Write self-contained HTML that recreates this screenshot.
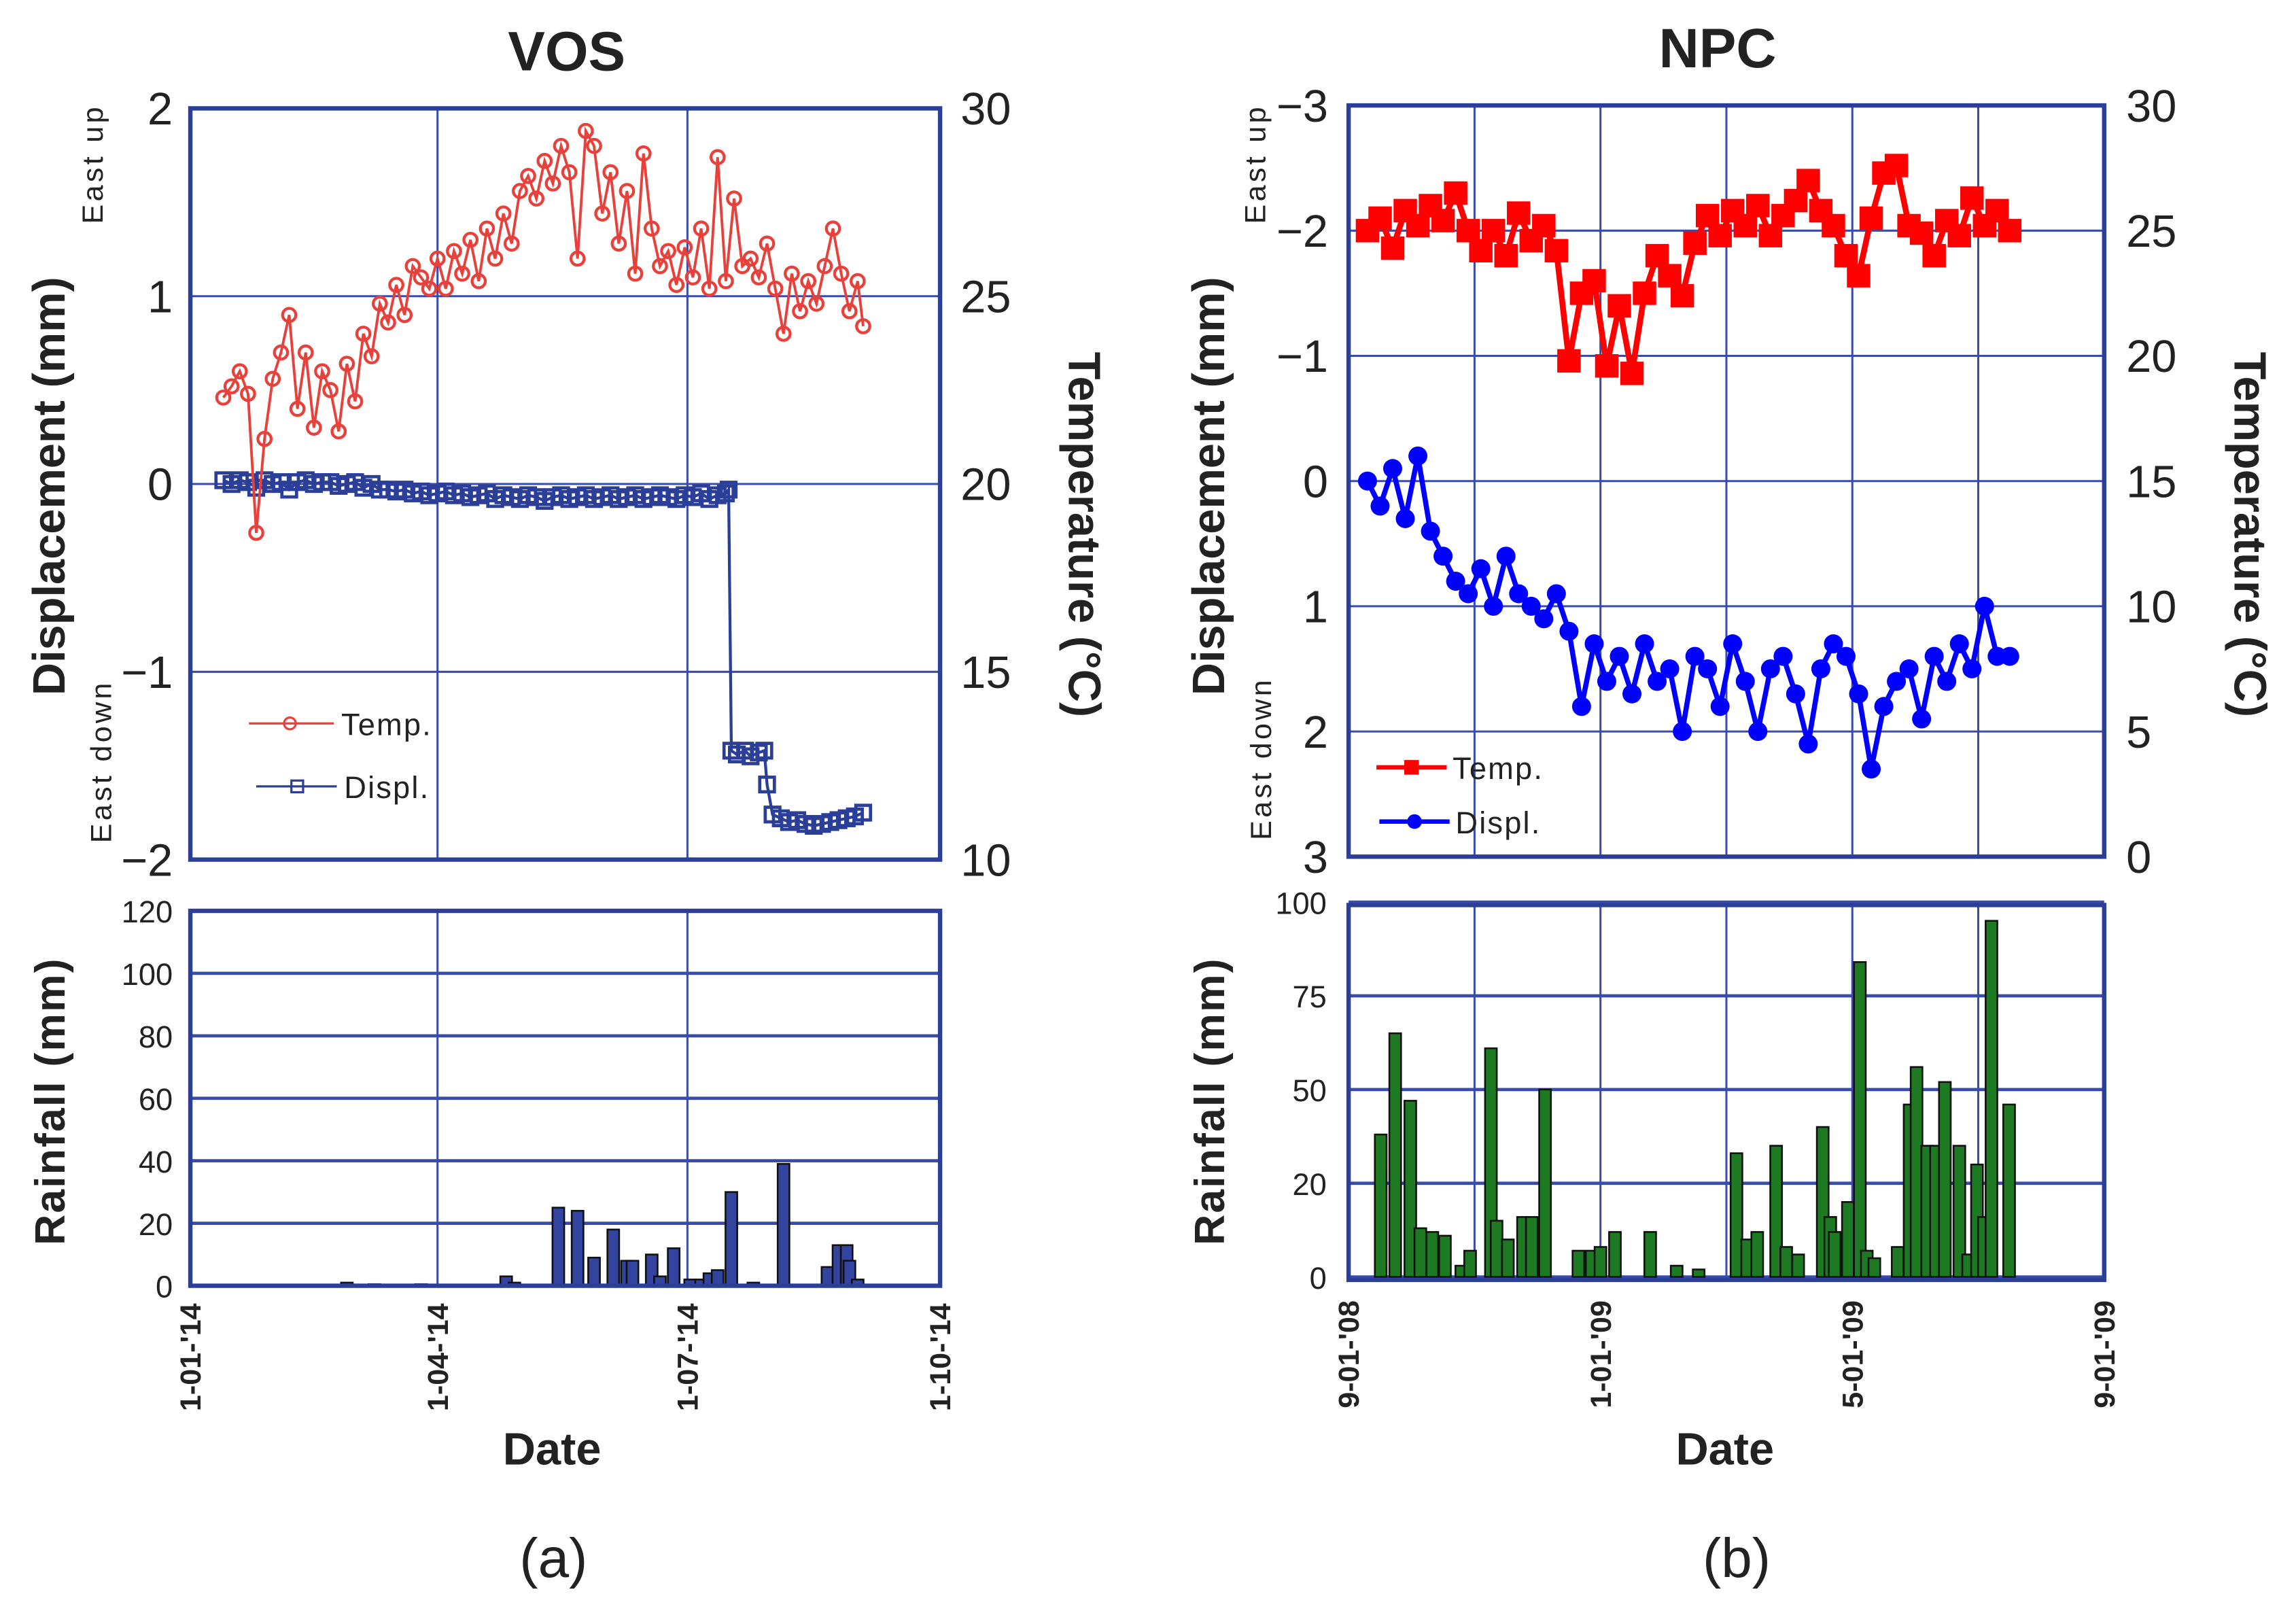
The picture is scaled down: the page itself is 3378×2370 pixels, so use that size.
<!DOCTYPE html>
<html><head><meta charset="utf-8"><style>
html,body{margin:0;padding:0;background:#fff;}
svg{display:block;font-family:"Liberation Sans",sans-serif;}
</style></head><body>
<svg id="fig" width="3378" height="2370" viewBox="0 0 1568 1100.1" preserveAspectRatio="none" xmlns="http://www.w3.org/2000/svg">
<rect width="1568" height="1100.1" fill="#fff"/>
</svg>
<script>
// ---------- VOS data (day of year 2014) ----------
const vosTempDays=[12,15,18,21,24,27,30,33,36,39,42,45,48,51,54,57,60,63,66,69,72,75,78,81,84,87,90,93,96,99,102,105,108,111,114,117,120,123,126,129,132,135,138,141,144,147,150,153,156,159,162,165,168,171,174,177,180,183,186,189,192,195,198,201,204,207,210,213,216,219,222,225,228,231,234,237,240,243,245];
const vosTempVals=[22.3,22.6,23.0,22.4,18.7,21.2,22.8,23.5,24.5,22.0,23.5,21.5,23.0,22.5,21.4,23.2,22.2,24.0,23.4,24.8,24.3,25.3,24.5,25.8,25.5,25.2,26.0,25.2,26.2,25.6,26.5,25.4,26.8,26.0,27.2,26.4,27.8,28.2,27.6,28.6,28.0,29.0,28.3,26.0,29.4,29.0,27.2,28.3,26.4,27.8,25.6,28.8,26.8,25.8,26.2,25.3,26.3,25.5,26.8,25.2,28.7,25.4,27.6,25.8,26.0,25.5,26.4,25.2,24.0,25.6,24.6,25.4,24.8,25.8,26.8,25.6,24.6,25.4,24.2];
const vosDispDays=[12,15,18,21,24,27,30,33,36,39,42,45,48,51,54,57,60,63,66,69,72,75,78,81,84,87,90,93,96,99,102,105,108,111,114,117,120,123,126,129,132,135,138,141,144,147,150,153,156,159,162,165,168,171,174,177,180,183,186,189,192,195,196,197,199,202,204,207,209,210,212,215,218,221,224,227,230,233,236,239,242,245];
const vosDispVals=[0.02,0.0,0.02,0.01,-0.02,0.02,0.0,0.01,-0.03,0.01,0.02,0.0,0.01,0.01,-0.01,0.0,0.01,-0.02,0.0,-0.03,-0.03,-0.04,-0.03,-0.05,-0.04,-0.06,-0.05,-0.04,-0.06,-0.05,-0.07,-0.06,-0.05,-0.08,-0.06,-0.07,-0.08,-0.06,-0.07,-0.09,-0.07,-0.06,-0.08,-0.07,-0.06,-0.08,-0.07,-0.06,-0.08,-0.07,-0.06,-0.08,-0.07,-0.06,-0.07,-0.08,-0.06,-0.07,-0.05,-0.08,-0.06,-0.05,-0.03,-1.42,-1.44,-1.42,-1.45,-1.43,-1.42,-1.6,-1.76,-1.78,-1.80,-1.79,-1.81,-1.82,-1.81,-1.80,-1.79,-1.78,-1.77,-1.75];
const vosRainDays=[57,67,84,115,118,134,141,147,154,159,161,168,171,176,182,186,189,192,197,205,216,232,236,239,240,243];
const vosRainVals=[1,0.5,0.5,3,1,25,24,9,18,8,8,10,3,12,2,2,4,5,30,1,39,6,13,13,8,2];
const vosDispTicks=[2,1,0,-1,-2];
const vosDispTickLabels=["2","1","0","\u22121","\u22122"];
const vosTempTicks=[30,25,20,15,10];
const vosRainTicks=[0,20,40,60,80,100,120];
const vosDateTicks=[0,90,181,273];
const vosDateLabels=["1-01-'14","1-04-'14","1-07-'14","1-10-'14"];
// ---------- NPC data (months since 1 Sep 2008) ----------
const npcTempMonths=[0.3,0.5,0.7,0.9,1.1,1.3,1.5,1.7,1.9,2.1,2.3,2.5,2.7,2.9,3.1,3.3,3.5,3.7,3.9,4.1,4.3,4.5,4.7,4.9,5.1,5.3,5.5,5.7,5.9,6.1,6.3,6.5,6.7,6.9,7.1,7.3,7.5,7.7,7.9,8.1,8.3,8.5,8.7,8.9,9.1,9.3,9.5,9.7,9.9,10.1,10.3,10.5];
const npcTempVals=[25,25.5,24.3,25.8,25.2,26.0,25.4,26.5,25.0,24.2,25.0,24.0,25.7,24.6,25.2,24.2,19.8,22.5,23.0,19.6,22.0,19.3,22.5,24.0,23.2,22.4,24.5,25.6,24.8,25.8,25.2,26.0,24.8,25.6,26.2,27.0,25.8,25.2,24.0,23.2,25.5,27.3,27.6,25.2,24.9,24.0,25.4,24.8,26.3,25.2,25.8,25.0];
const npcDispMonths=npcTempMonths;
const npcDispVals=[0,0.2,-0.1,0.3,-0.2,0.4,0.6,0.8,0.9,0.7,1.0,0.6,0.9,1.0,1.1,0.9,1.2,1.8,1.3,1.6,1.4,1.7,1.3,1.6,1.5,2.0,1.4,1.5,1.8,1.3,1.6,2.0,1.5,1.4,1.7,2.1,1.5,1.3,1.4,1.7,2.3,1.8,1.6,1.5,1.9,1.4,1.6,1.3,1.5,1.0,1.4,1.4];
const npcRainMonths=[0.51,0.74,0.98,1.14,1.33,1.53,1.79,1.93,2.26,2.35,2.53,2.77,2.91,3.12,3.65,3.86,4.0,4.23,4.79,5.21,5.56,6.16,6.33,6.49,6.79,6.95,7.14,7.53,7.65,7.72,7.93,8.12,8.23,8.35,8.72,8.91,9.02,9.19,9.33,9.47,9.70,9.84,9.98,10.09,10.21,10.49];
const npcRainVals=[38,65,47,13,12,11,3,7,61,15,10,16,16,50,7,7,8,12,12,3,2,33,10,12,35,8,6,40,16,12,20,84,7,5,8,46,56,35,35,52,35,6,30,16,95,46];
const npcDispTicks=[-3,-2,-1,0,1,2,3];
const npcDispTickLabels=["\u22123","\u22122","\u22121","0","1","2","3"];
const npcTempTicks=[30,25,20,15,10,5,0];
const npcRainTicks=[0,25,50,75,100];
const npcRainTickLabels=["0","20","50","75","100"];
const npcDateTicks=[0,4,8,12];
const npcDateLabels=["9-01-'08","1-01-'09","5-01-'09","9-01-'09"];
const npcGridMonths=[2,4,6,8,10];

const svg=document.getElementById('fig');
const NS='http://www.w3.org/2000/svg';
function mk(tag,attrs,parent){const e=document.createElementNS(NS,tag);for(const k in attrs)e.setAttribute(k,attrs[k]);(parent||svg).appendChild(e);return e;}
function lin(d0,d1,r0,r1){return v=>r0+(v-d0)/(d1-d0)*(r1-r0);}
function txt(s,x,y,size,opt,parent){const t=mk('text',Object.assign({x:x,y:y,'font-size':size,fill:'#222'},opt||{}),parent);t.textContent=s;return t;}

// ====== VOS ======
const vx=lin(0,273,130,642), vyD=lin(-2,2,587,74), vyT=lin(10,30,587,74), vyR=lin(0,120,878,622);
const vosBlue='#2b3f99', vosRed='#e8403a';
let g=mk('g',{});

txt('VOS',387,48,38,{'font-weight':'bold','text-anchor':'middle'},g);
[1,0,-1].forEach(v=>{const l=mk('line',{x1:130,x2:642,y1:vyD(v),y2:vyD(v),stroke:'#3a4caa','stroke-width':1.4},g);});
[90,181].forEach(v=>{const l=mk('line',{x1:vx(v),x2:vx(v),y1:74,y2:587,stroke:'#3a4caa','stroke-width':1.4},g);});
vosDispTicks.forEach((v,i)=>{const t=txt(vosDispTickLabels[i],118,vyD(v)+11,31,{'text-anchor':'end'},g);});
vosTempTicks.forEach(v=>{const t=txt(String(v),656,vyT(v)+11,31,{},g);});
let pts=vosDispDays.map((d,i)=>vx(d)+','+vyD(vosDispVals[i])).join(' ');
let pl=mk('polyline',{points:pts,fill:'none',stroke:vosBlue,'stroke-width':2},g);

vosDispDays.forEach((d,i)=>{const r=mk('rect',{x:vx(d)-5,y:vyD(vosDispVals[i])-5,width:10,height:10,fill:'none',stroke:vosBlue,'stroke-width':2.2},g);});
pts=vosTempDays.map((d,i)=>vx(d)+','+vyT(vosTempVals[i])).join(' ');
pl=mk('polyline',{points:pts,fill:'none',stroke:vosRed,'stroke-width':1.8},g);

vosTempDays.forEach((d,i)=>{const c=mk('circle',{cx:vx(d),cy:vyT(vosTempVals[i]),r:4.5,fill:'none',stroke:vosRed,'stroke-width':2},g);});
let fr=mk('rect',{x:130,y:74,width:512,height:513,fill:'none',stroke:vosBlue,'stroke-width':3},g);

let lg=mk('g',{},g);
mk('line',{x1:170,x2:228,y1:494,y2:494,stroke:vosRed,'stroke-width':1.5},lg);
mk('circle',{cx:198,cy:494,r:4,fill:'none',stroke:vosRed,'stroke-width':1.5},lg);
txt('Temp.',233,502,21,{'letter-spacing':'1'},lg);
mk('line',{x1:175,x2:230,y1:537,y2:537,stroke:vosBlue,'stroke-width':1.5},lg);
mk('rect',{x:199,y:533,width:8,height:8,fill:'none',stroke:vosBlue,'stroke-width':1.5},lg);
txt('Displ.',235,545,21,{'letter-spacing':'1'},lg);
txt('Displacement (mm)',0,0,31,{'font-weight':'bold','text-anchor':'middle',transform:'translate(44,332) rotate(-90)'},g);
txt('East up',0,0,20,{'text-anchor':'middle',transform:'translate(70,112) rotate(-90)','letter-spacing':'2'},g);
txt('East down',0,0,20,{'text-anchor':'middle',transform:'translate(76,520) rotate(-90)','letter-spacing':'2'},g);
txt('Temperature (\u00B0C)',0,0,31,{'font-weight':'bold','text-anchor':'middle',transform:'translate(730,365) rotate(90)'},g);
let gr=mk('g',{});
vosRainTicks.forEach(v=>{const l=mk('line',{x1:130,x2:642,y1:vyR(v),y2:vyR(v),stroke:'#3a4caa','stroke-width':2.2},gr);
 const t=txt(String(v),118,vyR(v)+8,21,{'text-anchor':'end'},gr);});
[90,181].forEach(v=>mk('line',{x1:vx(v),x2:vx(v),y1:622,y2:878,stroke:'#3a4caa','stroke-width':1.4},gr));
vosRainDays.forEach((d,i)=>{const b=mk('rect',{x:vx(d)-4,y:vyR(vosRainVals[i]),width:8,height:vyR(0)-vyR(vosRainVals[i]),fill:'#33449e',stroke:'#111','stroke-width':1.2},gr);});
fr=mk('rect',{x:130,y:622,width:512,height:256,fill:'none',stroke:vosBlue,'stroke-width':3},gr);
txt('Rainfall (mm)',0,0,29,{'font-weight':'bold','text-anchor':'middle',transform:'translate(44,752) rotate(-90)','letter-spacing':'1'},gr);
vosDateTicks.forEach((d,i)=>{const t=txt(vosDateLabels[i],0,0,20,{'text-anchor':'end','font-weight':'bold',transform:'translate('+(vx(d)+7)+',890) rotate(-90)'},gr);});
txt('Date',377,1000,31,{'font-weight':'bold','text-anchor':'middle'},gr);
txt('(a)',378,1077,38,{'text-anchor':'middle'},gr);

// ====== NPC ======
const nx=lin(0,12,921,1437), nyD=lin(-3,3,72,585), nyT=lin(0,30,585,72), nyR=lin(0,100,872,616);
const nBlue='#0000ff', nRed='#ff0000', gcol='#3a4caa';
g=mk('g',{});
txt('NPC',1173,46,38,{'font-weight':'bold','text-anchor':'middle'},g);
[-2,-1,0,1,2].forEach(v=>{const l=mk('line',{x1:921,x2:1437,y1:nyD(v),y2:nyD(v),stroke:gcol,'stroke-width':1.4},g);});
npcGridMonths.forEach(m=>{const l=mk('line',{x1:nx(m),x2:nx(m),y1:72,y2:585,stroke:gcol,'stroke-width':1.4},g);});
npcDispTicks.forEach((v,i)=>{const t=txt(npcDispTickLabels[i],907,nyD(v)+11,31,{'text-anchor':'end'},g);});
npcTempTicks.forEach(v=>{const t=txt(String(v),1452,nyT(v)+11,31,{},g);});
pts=npcDispMonths.map((m,i)=>nx(m)+','+nyD(npcDispVals[i])).join(' ');
pl=mk('polyline',{points:pts,fill:'none',stroke:nBlue,'stroke-width':3.5},g);
npcDispMonths.forEach((m,i)=>{const c=mk('circle',{cx:nx(m),cy:nyD(npcDispVals[i]),r:6.5,fill:nBlue},g);});
pts=npcTempMonths.map((m,i)=>nx(m)+','+nyT(npcTempVals[i])).join(' ');
pl=mk('polyline',{points:pts,fill:'none',stroke:nRed,'stroke-width':4},g);
npcTempMonths.forEach((m,i)=>{const r=mk('rect',{x:nx(m)-8,y:nyT(npcTempVals[i])-8,width:16,height:16,fill:nRed},g);});
fr=mk('rect',{x:921,y:72,width:516,height:513,fill:'none',stroke:'#2b3f99','stroke-width':3},g);
lg=mk('g',{},g);
mk('line',{x1:940,x2:988,y1:524,y2:524,stroke:nRed,'stroke-width':3},lg);
mk('rect',{x:959,y:519,width:10,height:10,fill:nRed},lg);
txt('Temp.',992,532,21,{'letter-spacing':'1'},lg);
mk('line',{x1:942,x2:990,y1:561,y2:561,stroke:nBlue,'stroke-width':3},lg);
mk('circle',{cx:966,cy:561,r:5,fill:nBlue},lg);
txt('Displ.',994,569,21,{'letter-spacing':'1'},lg);
txt('Displacement (mm)',0,0,31,{'font-weight':'bold','text-anchor':'middle',transform:'translate(836,332) rotate(-90)'},g);
txt('East up',0,0,20,{'text-anchor':'middle',transform:'translate(864,112) rotate(-90)','letter-spacing':'2'},g);
txt('East down',0,0,20,{'text-anchor':'middle',transform:'translate(868,518) rotate(-90)','letter-spacing':'2'},g);
txt('Temperature (\u00B0C)',0,0,31,{'font-weight':'bold','text-anchor':'middle',transform:'translate(1526,365) rotate(90)'},g);
gr=mk('g',{});
npcRainTicks.forEach((v,i)=>{const l=mk('line',{x1:921,x2:1437,y1:nyR(v),y2:nyR(v),stroke:gcol,'stroke-width':2.2},gr);
 const t=txt(npcRainTickLabels[i],906,nyR(v)+8,21,{'text-anchor':'end'},gr);});
npcGridMonths.forEach(m=>mk('line',{x1:nx(m),x2:nx(m),y1:616,y2:872,stroke:gcol,'stroke-width':1.4},gr));
npcRainMonths.forEach((m,i)=>{const b=mk('rect',{x:nx(m)-4,y:nyR(npcRainVals[i]),width:8,height:nyR(0)-nyR(npcRainVals[i]),fill:'#1d7a22',stroke:'#111','stroke-width':1.2},gr);});
fr=mk('rect',{x:921,y:618,width:516,height:256,fill:'none',stroke:'#2b3f99','stroke-width':3},gr);
txt('Rainfall (mm)',0,0,29,{'font-weight':'bold','text-anchor':'middle',transform:'translate(836,752) rotate(-90)','letter-spacing':'1'},gr);
npcDateTicks.forEach((m,i)=>{const t=txt(npcDateLabels[i],0,0,20,{'text-anchor':'end','font-weight':'bold',transform:'translate('+(nx(m)+7)+',888) rotate(-90)'},gr);});
txt('Date',1178,1000,31,{'font-weight':'bold','text-anchor':'middle'},gr);
txt('(b)',1186,1077,38,{'text-anchor':'middle'},gr);
</script>
</body></html>
